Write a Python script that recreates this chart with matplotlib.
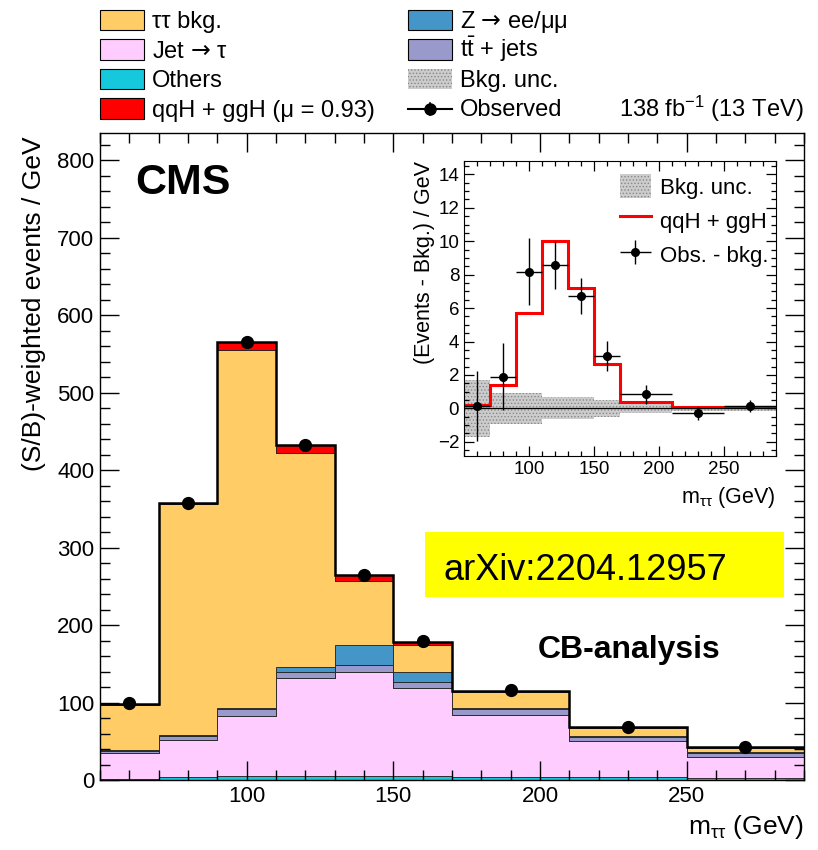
import numpy as np
import matplotlib
matplotlib.use("Agg")
import matplotlib.pyplot as plt
from matplotlib.patches import Rectangle
from matplotlib.lines import Line2D
from matplotlib.legend_handler import HandlerErrorbar
from matplotlib.ticker import MultipleLocator

plt.rcParams['font.family'] = ['Liberation Sans', 'DejaVu Sans']
plt.rcParams['mathtext.fontset'] = 'custom'
plt.rcParams['mathtext.rm'] = 'Liberation Sans'
plt.rcParams['mathtext.it'] = 'Liberation Sans:italic'
plt.rcParams['mathtext.bf'] = 'Liberation Sans:bold'
plt.rcParams['mathtext.sf'] = 'DejaVu Sans'
plt.rcParams['hatch.linewidth'] = 0.6

# m_tautau bins (GeV)
edges = [50, 70, 90, 110, 130, 150, 170, 210, 250, 290]

# main plot, (S/B)-weighted events / GeV, per process (not stacked)
others = [1, 3.5, 5, 5.5, 5.5, 5, 4.5, 4, 2.5]
jet_tau = [34, 48.5, 78, 126.5, 134.5, 114, 79.5, 46, 27.5]
ttbar = [3, 5, 8, 8, 9, 8, 7, 6, 5]
zll = [1, 1, 2, 6, 25, 13, 2, 1, 1]
tautau = [58, 298, 462, 276, 83, 34, 21, 10, 5]
signal = [1, 2, 10, 10, 7, 4, 1, 1, 1]
observed = [100, 358, 565, 432, 265, 180, 116, 69, 43]

# inset, (events - bkg.) / GeV
sig_inset = [0.2, 1.39, 5.72, 10.0, 7.23, 2.63, 0.4, 0.1, 0.1]
obs_minus_bkg = [0.16, 1.89, 8.17, 8.57, 6.73, 3.13, 0.84, -0.3, 0.16]
obs_err = [2.1, 2.0, 2.0, 1.43, 1.06, 0.9, 0.55, 0.38, 0.35]
bkg_unc = [1.69, 0.94, 0.94, 0.66, 0.66, 0.52, 0.26, 0.16, 0.16]

# legend labels, column by column
leg_labels = ['ττ bkg.', r'Jet $\mathsf{→}$ τ', 'Others', 'qqH + ggH (μ = 0.93)',
              r'Z $\mathsf{→}$ ee/μμ', r't$\bar{\mathrm{t}}$ + jets', 'Bkg. unc.', 'Observed']

c_tautau = '#ffcc66'
c_jet = '#ffccff'
c_others = '#16c8dc'
c_sig = '#ff0000'
c_zll = '#4496c8'
c_tt = '#9999cc'
c_unc = '#cccccc'
c_unc_hatch = '#888888'

edges_a = np.array(edges, dtype=float)
centers = 0.5 * (edges_a[1:] + edges_a[:-1])
halfw = 0.5 * (edges_a[1:] - edges_a[:-1])

fig = plt.figure(figsize=(8.18, 8.5), dpi=100)
W, H = 818.0, 850.0
ax = fig.add_axes([100 / W, 1 - 780 / H, 704 / W, 647 / H])

base = np.zeros(len(centers))
for vals, col in [(others, c_others), (jet_tau, c_jet), (ttbar, c_tt),
                  (zll, c_zll), (tautau, c_tautau), (signal, c_sig)]:
    top = base + np.array(vals)
    ax.stairs(top, edges, baseline=base, fill=True, facecolor=col,
              edgecolor='#222222', linewidth=0.6)
    base = top
ax.stairs(base, edges, baseline=None, color='black', linewidth=1.8)
ax.plot(centers, observed, 'o', color='black', markersize=8.5, zorder=5)

ax.set_xlim(50, 290)
ax.set_ylim(0, 835)
ax.xaxis.set_major_locator(MultipleLocator(50))
ax.xaxis.set_minor_locator(MultipleLocator(10))
ax.yaxis.set_major_locator(MultipleLocator(100))
ax.yaxis.set_minor_locator(MultipleLocator(20))
ax.tick_params(which='both', direction='in', top=True, right=True, width=1)
ax.tick_params(which='major', length=14, labelsize=16, pad=4)
ax.tick_params(which='minor', length=7)
ax.set_xticks([100, 150, 200, 250])
for s in ax.spines.values():
    s.set_linewidth(1.0)

ax.set_ylabel('(S/B)-weighted events / GeV', fontsize=19, loc='top')
ax.yaxis.set_label_coords(-0.077, 0.995)
ax.set_xlabel(r'm$_{\mathrm{ττ}}$ (GeV)', fontsize=19, loc='right')
ax.xaxis.set_label_coords(1.0, -0.051)

fig.text(135 / W, 1 - 194 / H, 'CMS', fontsize=31, fontweight='bold',
         va='baseline')
fig.text(538 / W, 1 - 658 / H, 'CB-analysis', fontsize=23, fontweight='bold',
         va='baseline')
fig.patches.append(Rectangle((425 / W, 1 - 597 / H), 359 / W, 65 / H,
                             transform=fig.transFigure, facecolor='#ffff00',
                             edgecolor='none', zorder=3))
fig.text(444 / W, 1 - 580 / H, 'arXiv:2204.12957', fontsize=26,
         va='baseline', zorder=4)

# top legend, drawn by hand so that both columns share the row positions
row_y = [20, 49.5, 79, 108.5]
col_x = [100, 408]
leg_styles = [c_tautau, c_jet, c_others, c_sig, c_zll, c_tt, 'unc', 'obs']
for i, (lab, sty) in enumerate(zip(leg_labels, leg_styles)):
    x0 = col_x[i // 4]
    yc = row_y[i % 4]
    if sty == 'obs':
        fig.lines.append(Line2D([x0 / W, (x0 + 44) / W], [1 - yc / H] * 2,
                                transform=fig.transFigure, color='black', lw=1.5))
        fig.lines.append(Line2D([(x0 + 22) / W] * 2, [1 - (yc - 6) / H, 1 - (yc + 6) / H],
                                transform=fig.transFigure, color='black', lw=1.2))
        fig.lines.append(Line2D([(x0 + 22) / W], [1 - yc / H], transform=fig.transFigure,
                                marker='o', markersize=8, color='black'))
    elif sty == 'unc':
        fig.patches.append(Rectangle((x0 / W, 1 - (yc + 10) / H), 44 / W, 20 / H,
                                     transform=fig.transFigure, facecolor=c_unc,
                                     edgecolor=c_unc_hatch, hatch='.....', lw=0))
    else:
        fig.patches.append(Rectangle((x0 / W, 1 - (yc + 10) / H), 44 / W, 20 / H,
                                     transform=fig.transFigure, facecolor=sty,
                                     edgecolor='black', lw=0.8))
    fig.text((x0 + 52) / W, 1 - (yc + 8) / H, lab, fontsize=17, va='baseline')
fig.text(804 / W, 1 - 117 / H, r'138 fb$^{-1}$ (13 TeV)', fontsize=17,
         ha='right', va='baseline')

# inset
ax2 = fig.add_axes([464 / W, 1 - 456 / H, 312 / W, 295 / H])
unc_up = np.array(bkg_unc)
ax2.stairs(unc_up, edges, baseline=-unc_up, fill=True, facecolor=c_unc,
           edgecolor=c_unc_hatch, hatch='.....', linewidth=0, label='Bkg. unc.')
ax2.axhline(0, color='black', lw=0.9)
ax2.stairs(sig_inset, edges, baseline=None, color=c_sig, linewidth=2.2,
           label='qqH + ggH')
eb = ax2.errorbar(centers, obs_minus_bkg, yerr=obs_err, xerr=halfw, fmt='o',
                  color='black', markersize=5.5, elinewidth=1.0, capsize=0,
                  label='Obs. - bkg.', zorder=5)
ax2.set_xlim(50, 290)
ax2.set_ylim(-2.85, 14.8)
ax2.xaxis.set_major_locator(MultipleLocator(50))
ax2.xaxis.set_minor_locator(MultipleLocator(10))
ax2.yaxis.set_major_locator(MultipleLocator(2))
ax2.yaxis.set_minor_locator(MultipleLocator(0.5))
ax2.set_xticks([100, 150, 200, 250])
ax2.tick_params(which='both', direction='in', top=True, right=True, width=0.9)
ax2.tick_params(which='major', length=7, labelsize=13.5, pad=3.5)
ax2.tick_params(which='minor', length=3.5)
ax2.set_ylabel('(Events - Bkg.) / GeV', fontsize=15.5, loc='top')
ax2.yaxis.set_label_coords(-0.093, 1.0)
ax2.set_xlabel(r'm$_{\mathrm{ττ}}$ (GeV)', fontsize=15.5, loc='right')
ax2.xaxis.set_label_coords(1.0, -0.1)
ax2.legend(loc='upper right', bbox_to_anchor=(0.975, 0.955), frameon=False,
           fontsize=16, handlelength=1.4, handleheight=1.3, handletextpad=0.4,
           labelspacing=0.42, borderpad=0, borderaxespad=0,
           handler_map={type(eb): HandlerErrorbar(xerr_size=0.7, yerr_size=0.55)})

fig.savefig('out.png', dpi=100)
